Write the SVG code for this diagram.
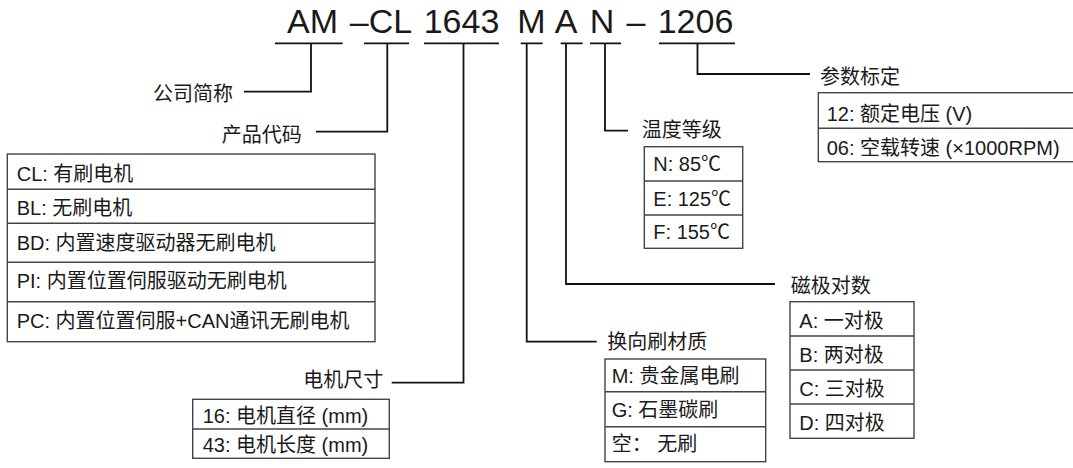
<svg xmlns="http://www.w3.org/2000/svg" width="1073" height="468" viewBox="0 0 1073 468">
<style>
text{font-family:"Liberation Sans","Noto Sans CJK SC",sans-serif;fill:#1a1a1a;}
.code{font-size:34px;text-anchor:middle;}
.lbl{font-size:20px;}
.end{text-anchor:end;}
.cell{font-size:20px;}
.box{fill:none;stroke:#444;stroke-width:1.4;}
.sep{stroke:#444;stroke-width:1.4;}
.conn{fill:none;stroke:#111;stroke-width:1.8;}
</style>
<rect width="1073" height="468" fill="#fff"/>
<g id="code">
<text class="code" x="312.5" y="33">AM</text>
<text class="code" x="381" y="33">–CL</text>
<text class="code" x="461.5" y="33">1643</text>
<text class="code" x="531.3" y="33">M</text>
<text class="code" x="566" y="33">A</text>
<text class="code" x="602" y="33">N</text>
<text class="code" x="636" y="33">–</text>
<text class="code" x="695.5" y="33">1206</text>
<path class="conn" d="M275 43.3H342.7M364 43.3H409M424 43.3H499M520.7 43.3H542.7M560.7 43.3H582.7M590 43.3H621M659 43.3H735"/>
</g>
<g id="connectors">
<path class="conn" d="M311 43.3V91.7H244"/>
<path class="conn" d="M387.3 43.3V131.7H316"/>
<path class="conn" d="M463.5 43.3V382.7H391.7"/>
<path class="conn" d="M526.7 43.3V341.7H596.7"/>
<path class="conn" d="M566 43.3V284H775"/>
<path class="conn" d="M605 43.3V130.7H628"/>
<path class="conn" d="M697.5 43.3V74H810"/>
</g>
<g id="company">
<text class="lbl end" x="233" y="101">公司简称</text>
</g>
<g id="product">
<text class="lbl end" x="301.7" y="142">产品代码</text>
<rect class="box" x="7.3" y="154" width="367.7" height="187.7"/>
<path class="sep" d="M7.3 189.3H375M7.3 223.3H375M7.3 262.3H375M7.3 301.7H375"/>
<text class="cell" x="16.7" y="181">CL: 有刷电机</text>
<text class="cell" x="16.7" y="215">BL: 无刷电机</text>
<text class="cell" x="16.7" y="250">BD: 内置速度驱动器无刷电机</text>
<text class="cell" x="16.7" y="288">PI: 内置位置伺服驱动无刷电机</text>
<text class="cell" x="16.7" y="328">PC: 内置位置伺服+CAN通讯无刷电机</text>
</g>
<g id="size">
<text class="lbl end" x="383.3" y="387">电机尺寸</text>
<rect class="box" x="192.7" y="399.3" width="196.6" height="59"/>
<path class="sep" d="M192.7 429H389.3"/>
<text class="cell" x="202.7" y="423">16: 电机直径 (mm)</text>
<text class="cell" x="202.7" y="452">43: 电机长度 (mm)</text>
</g>
<g id="brush">
<text class="lbl" x="607.3" y="349">换向刷材质</text>
<rect class="box" x="605" y="359" width="160.7" height="102.7"/>
<path class="sep" d="M605 391.7H765.7M605 426.7H765.7"/>
<text class="cell" x="611.7" y="383">M: 贵金属电刷</text>
<text class="cell" x="611.7" y="416.5">G: 石墨碳刷</text>
<text class="cell" x="611.7" y="451">空： 无刷</text>
</g>
<g id="temp">
<text class="lbl" x="641.7" y="137">温度等级</text>
<rect class="box" x="644.3" y="146.7" width="98.4" height="101.6"/>
<path class="sep" d="M644.3 181H742.7M644.3 215H742.7"/>
<text class="cell" x="653.3" y="171">N: 85℃</text>
<text class="cell" x="653.3" y="205.5">E: 125℃</text>
<text class="cell" x="653.3" y="239">F: 155℃</text>
</g>
<g id="poles">
<text class="lbl" x="790.7" y="292.5">磁极对数</text>
<rect class="box" x="790" y="301.7" width="124" height="136.6"/>
<path class="sep" d="M790 336H914M790 370H914M790 404H914"/>
<text class="cell" x="799.3" y="328">A: 一对极</text>
<text class="cell" x="799.3" y="361.5">B: 两对极</text>
<text class="cell" x="799.3" y="396">C: 三对极</text>
<text class="cell" x="799.3" y="430">D: 四对极</text>
</g>
<g id="params">
<text class="lbl" x="820" y="84">参数标定</text>
<rect class="box" x="818.3" y="92.7" width="270" height="69"/>
<path class="sep" d="M818.3 128.3H1090"/>
<text class="cell" x="826.7" y="121">12: 额定电压 (V)</text>
<text class="cell" x="826.7" y="154.5">06: 空载转速 (×1000RPM)</text>
</g>
</svg>
